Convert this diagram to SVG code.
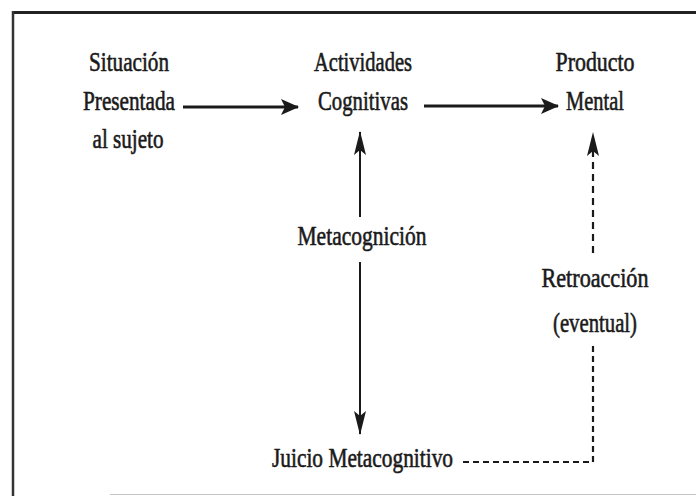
<svg xmlns="http://www.w3.org/2000/svg" width="696" height="496" viewBox="0 0 696 496">
<defs>
<style>
text{font-family:"Liberation Serif","DejaVu Serif",serif;font-size:27.5px;fill:#1a1a1a;text-anchor:middle;stroke:#1a1a1a;stroke-width:0.6}
.ln{stroke:#1a1a1a;fill:none}
</style>
<marker id="ah" viewBox="0 0 18 16" refX="17" refY="8" markerWidth="18" markerHeight="16" markerUnits="userSpaceOnUse" orient="auto">
<path d="M0,0 L18,8 L0,16 L4,8 Z" fill="#1a1a1a"/>
</marker>
<marker id="av" viewBox="0 0 24 12" refX="23" refY="6" markerWidth="24" markerHeight="12" markerUnits="userSpaceOnUse" orient="auto">
<path d="M0,0 L24,6 L0,12 L5,6 Z" fill="#1a1a1a"/>
</marker>
</defs>
<rect width="696" height="496" fill="#ffffff"/>
<g id="frame">
<line x1="12" y1="12.5" x2="696" y2="12.5" stroke="#222" stroke-width="3"/>
<line x1="13" y1="11" x2="13" y2="496" stroke="#333" stroke-width="2.5"/>
<line x1="110" y1="494.5" x2="696" y2="494.5" stroke="#c4c4c4" stroke-width="1.2"/>
</g>
<g id="connectors">
<line class="ln" x1="183" y1="107" x2="298" y2="107" stroke-width="3" marker-end="url(#ah)"/>
<line class="ln" x1="424" y1="106" x2="558" y2="106" stroke-width="3" marker-end="url(#ah)"/>
<line class="ln" x1="360" y1="217" x2="360" y2="132" stroke-width="2" marker-end="url(#av)"/>
<line class="ln" x1="360" y1="262" x2="360" y2="434" stroke-width="2" marker-end="url(#av)"/>
<polyline class="ln" points="463,462 593,462 593,345" stroke-width="2.2" stroke-dasharray="6,4"/>
<line class="ln" x1="593" y1="253" x2="593" y2="133" stroke-width="2.2" stroke-dasharray="7,5" marker-end="url(#av)"/>
</g>
<g id="situacion">
<text x="129" y="71" textLength="80" lengthAdjust="spacingAndGlyphs">Situación</text>
<text x="129" y="110" textLength="92" lengthAdjust="spacingAndGlyphs">Presentada</text>
<text x="128" y="148" textLength="71" lengthAdjust="spacingAndGlyphs">al sujeto</text>
</g>
<g id="actividades">
<text x="363" y="71" textLength="98" lengthAdjust="spacingAndGlyphs">Actividades</text>
<text x="363" y="110" textLength="90" lengthAdjust="spacingAndGlyphs">Cognitivas</text>
</g>
<g id="producto">
<text x="595" y="71" textLength="79" lengthAdjust="spacingAndGlyphs">Producto</text>
<text x="595" y="110" textLength="58" lengthAdjust="spacingAndGlyphs">Mental</text>
</g>
<g id="metacognicion">
<text x="362" y="245" textLength="129" lengthAdjust="spacingAndGlyphs">Metacognición</text>
</g>
<g id="retroaccion">
<text x="595" y="287" textLength="107" lengthAdjust="spacingAndGlyphs">Retroacción</text>
<text x="595" y="332" textLength="84" lengthAdjust="spacingAndGlyphs">(eventual)</text>
</g>
<g id="juicio">
<text x="362.5" y="467" textLength="181" lengthAdjust="spacingAndGlyphs">Juicio Metacognitivo</text>
</g>
</svg>
